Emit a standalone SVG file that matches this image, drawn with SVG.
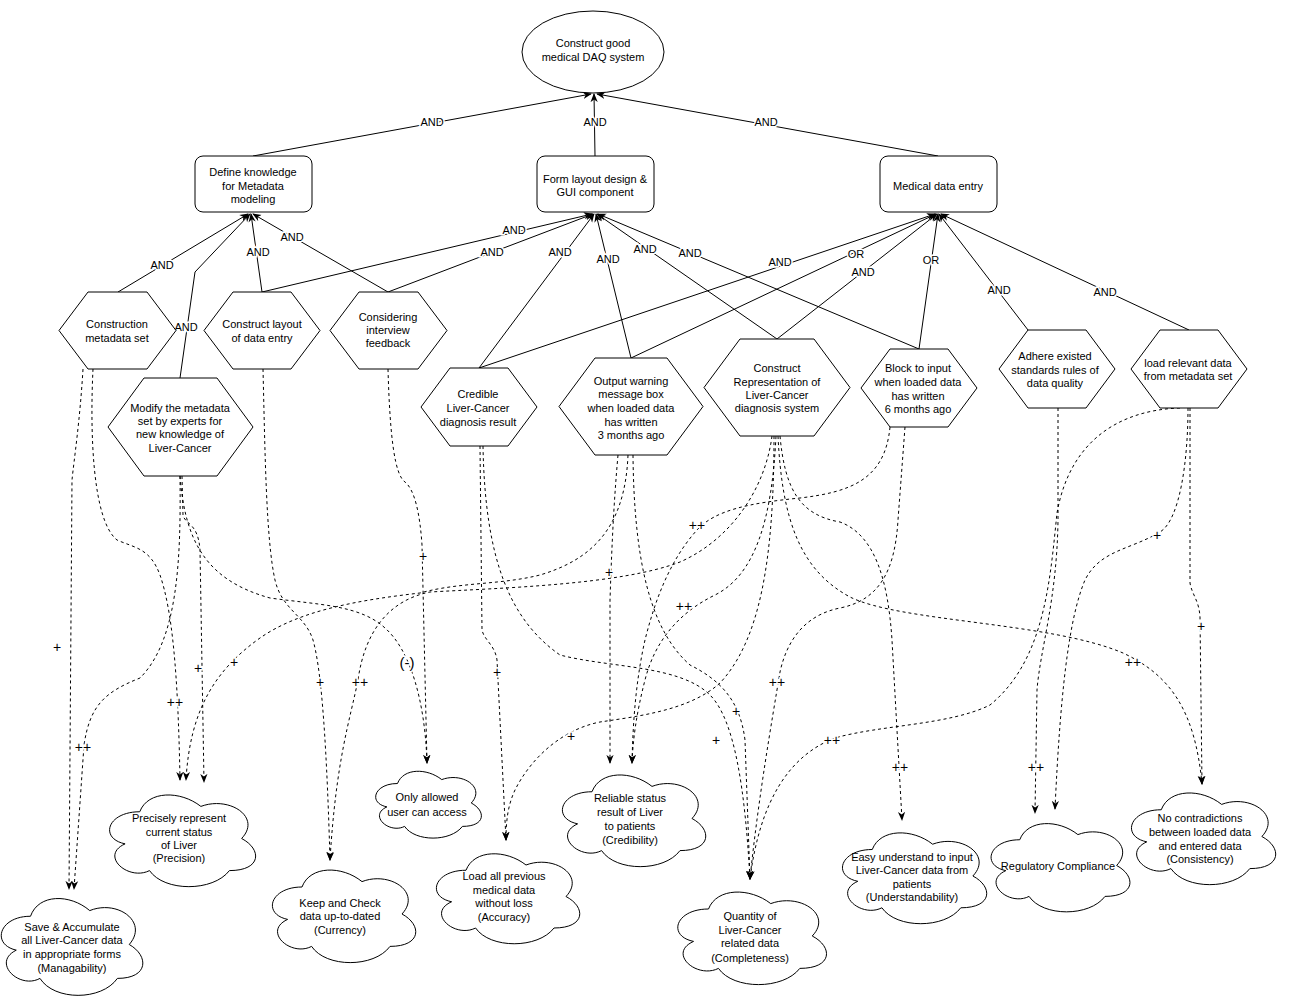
<svg xmlns="http://www.w3.org/2000/svg" xmlns:xlink="http://www.w3.org/1999/xlink" width="1295" height="997" viewBox="0 0 1295 997">
<style>
.t{font-family:"Liberation Sans",Arial,sans-serif;font-size:11px;fill:#000;text-anchor:middle}
.lb{font-family:"Liberation Sans",Arial,sans-serif;font-size:11px;fill:#000;text-anchor:middle;stroke:#fff;stroke-width:3px;paint-order:stroke}
.pl{font-family:"Liberation Sans",Arial,sans-serif;font-size:14px;fill:#000;text-anchor:middle;stroke:#fff;stroke-width:3px;paint-order:stroke}
.sh{fill:#fff;stroke:#000;stroke-width:1}
.and{fill:none;stroke:#000;stroke-width:1;marker-end:url(#arr)}
.cn{fill:none;stroke:#000;stroke-width:1;stroke-dasharray:3 3;marker-end:url(#arr)}
</style>
<defs>
<marker id="arr" viewBox="0 0 10 10" refX="9" refY="5" markerWidth="9" markerHeight="9" markerUnits="userSpaceOnUse" orient="auto">
<path d="M0,1 L10,5 L0,9 L3,5 z" fill="#000"/>
</marker>
<path id="cloud" d="M0.25,0.25 C0.05,0.25 0,0.5 0.16,0.55 C0,0.66 0.18,0.9 0.31,0.8 C0.4,1 0.7,1 0.8,0.8 C1,0.8 1,0.6 0.875,0.5 C1,0.3 0.8,0.1 0.625,0.2 C0.5,0.05 0.3,0.05 0.25,0.25 Z" fill="#fff" stroke="#000" stroke-width="1" vector-effect="non-scaling-stroke"/>
</defs>
<rect width="1295" height="997" fill="#fff"/>

<g id="connectors">
<!-- AND / OR links -->
<line class="and" x1="253" y1="156" x2="591" y2="94"/>
<line class="and" x1="595" y1="156" x2="594" y2="94"/>
<line class="and" x1="938" y1="156" x2="597" y2="94"/>
<line class="and" x1="118" y1="292" x2="248" y2="214"/>
<polyline class="and" points="180,378 195,272 250,214"/>
<line class="and" x1="262" y1="292" x2="251" y2="214"/>
<line class="and" x1="388" y1="292" x2="253" y2="214"/>
<line class="and" x1="262" y1="292" x2="592" y2="214"/>
<line class="and" x1="388" y1="292" x2="593" y2="214"/>
<line class="and" x1="479" y1="368" x2="594" y2="214"/>
<line class="and" x1="631" y1="358" x2="596" y2="214"/>
<line class="and" x1="777" y1="339" x2="597" y2="214"/>
<line class="and" x1="919" y1="349" x2="598" y2="214"/>
<line class="and" x1="479" y1="368" x2="935" y2="214"/>
<line class="and" x1="631" y1="358" x2="936" y2="214"/>
<line class="and" x1="777" y1="339" x2="937" y2="214"/>
<line class="and" x1="919" y1="349" x2="938" y2="214"/>
<line class="and" x1="1028" y1="330" x2="939" y2="214"/>
<line class="and" x1="1189" y1="330" x2="941" y2="214"/>

<!-- contribution links -->
<path class="cn" d="M83,369 C80,420 74,460 72,480 L69,889"/>
<path class="cn" d="M180,476 C181,560 178,640 140,678 C105,692 90,705 84,745 L74,889"/>
<path class="cn" d="M93,369 C90,430 92,520 117,540 C135,548 150,548 160,575 C172,610 178,670 180,780"/>
<path class="cn" d="M182,476 L183,515 C185,525 198,522 200,550 L204,782"/>
<path class="cn" d="M628,455 C625,530 590,560 540,575 C500,585 460,582 420,593 C360,600 300,610 260,638 C215,670 190,710 186,780"/>
<path class="cn" d="M263,369 C265,450 266,540 275,580 C282,610 305,615 313,640 C320,665 326,720 330,860"/>
<path class="cn" d="M772,436 C765,490 730,540 680,562 C620,585 500,588 430,592 C390,600 365,630 358,680 C350,720 336,760 330,860"/>
<path class="cn" d="M180,476 C185,540 205,580 270,598 C320,605 360,605 385,628 C410,650 425,700 427,763"/>
<path class="cn" d="M388,369 C390,440 395,475 405,482 C415,490 420,515 422,545 L427,763"/>
<path class="cn" d="M480,446 L482,630 C484,640 495,645 497,660 L506,840"/>
<path class="cn" d="M774,436 C774,560 760,640 720,683 C690,710 640,716 600,722 C560,730 530,760 515,790 C508,805 506,820 506,840"/>
<path class="cn" d="M483,446 C485,560 510,620 560,655 C610,668 680,665 710,695 C735,720 745,790 750,879"/>
<path class="cn" d="M633,455 C634,560 650,630 690,665 C720,680 740,700 745,740 L750,879"/>
<path class="cn" d="M618,455 C614,500 612,540 610,600 L610,763"/>
<path class="cn" d="M890,427 C885,480 850,492 800,498 C750,503 715,510 697,530 C670,560 655,600 645,640 C636,680 633,720 632,763"/>
<path class="cn" d="M776,436 C772,520 755,575 715,595 C680,612 655,640 645,680 C636,715 633,740 632,763"/>
<path class="cn" d="M905,427 L898,520 C895,570 880,600 840,608 C805,615 787,640 780,672 C772,720 758,800 750,879"/>
<path class="cn" d="M1180,408 C1120,410 1070,440 1057,513 C1050,580 1045,660 990,705 C950,725 880,725 835,738 C790,755 760,800 750,879"/>
<path class="cn" d="M780,436 C785,490 800,515 840,522 C875,535 888,580 892,640 L902,820"/>
<path class="cn" d="M1058,408 L1058,520 C1057,600 1040,650 1037,690 L1035,813"/>
<path class="cn" d="M1188,408 C1188,460 1180,520 1160,532 C1130,550 1100,550 1085,580 C1068,620 1060,700 1055,809"/>
<path class="cn" d="M1190,408 L1190,583 C1192,595 1199,600 1200,617 L1202,784"/>
<path class="cn" d="M778,436 C782,520 800,570 850,597 C900,622 1050,622 1123,653 C1170,675 1195,710 1202,784"/>

<!-- labels -->
<text class="lb" x="432" y="126">AND</text>
<text class="lb" x="595" y="126">AND</text>
<text class="lb" x="766" y="126">AND</text>
<text class="lb" x="162" y="269">AND</text>
<text class="lb" x="186" y="331">AND</text>
<text class="lb" x="258" y="256">AND</text>
<text class="lb" x="292" y="241">AND</text>
<text class="lb" x="514" y="234">AND</text>
<text class="lb" x="492" y="256">AND</text>
<text class="lb" x="560" y="256">AND</text>
<text class="lb" x="608" y="263">AND</text>
<text class="lb" x="645" y="253">AND</text>
<text class="lb" x="690" y="257">AND</text>
<text class="lb" x="780" y="266">AND</text>
<text class="lb" x="856" y="258">OR</text>
<text class="lb" x="863" y="276">AND</text>
<text class="lb" x="931" y="264">OR</text>
<text class="lb" x="999" y="294">AND</text>
<text class="lb" x="1105" y="296">AND</text>

<text class="pl" x="57" y="652">+</text>
<text class="pl" x="83" y="752">++</text>
<text class="pl" x="175" y="707">++</text>
<text class="pl" x="198" y="673">+</text>
<text class="pl" x="234" y="667">+</text>
<text class="pl" x="320" y="687">+</text>
<text class="pl" x="360" y="687">++</text>
<text class="pl" x="407" y="668" style="font-size:15px">(-)</text>
<text class="pl" x="423" y="561">+</text>
<text class="pl" x="497" y="677">+</text>
<text class="pl" x="571" y="741">+</text>
<text class="pl" x="609" y="577">+</text>
<text class="pl" x="697" y="530">++</text>
<text class="pl" x="684" y="611">++</text>
<text class="pl" x="736" y="716">+</text>
<text class="pl" x="716" y="745">+</text>
<text class="pl" x="777" y="687">++</text>
<text class="pl" x="832" y="745">++</text>
<text class="pl" x="900" y="772">++</text>
<text class="pl" x="1036" y="772">++</text>
<text class="pl" x="1157" y="540">+</text>
<text class="pl" x="1201" y="631">+</text>
<text class="pl" x="1133" y="667">++</text>
</g>

<g id="n-goal">
<ellipse class="sh" cx="593" cy="52" rx="71" ry="41"/>
<text class="t" x="593" y="47">Construct good</text>
<text class="t" x="593" y="61">medical DAQ system</text>
</g>
<g id="n-define">
<rect class="sh" x="195" y="156" width="117" height="56" rx="8"/>
<text class="t" x="253" y="176">Define knowledge</text>
<text class="t" x="253" y="190">for Metadata</text>
<text class="t" x="253" y="203">modeling</text>
</g>
<g id="n-form">
<rect class="sh" x="537" y="156" width="117" height="56" rx="8"/>
<text class="t" x="595" y="183">Form layout design &amp;</text>
<text class="t" x="595" y="196">GUI component</text>
</g>
<g id="n-entry">
<rect class="sh" x="880" y="156" width="117" height="56" rx="8"/>
<text class="t" x="938" y="190">Medical data entry</text>
</g>

<g id="h1">
<polygon class="sh" points="59,330.5 88,292 147,292 176,330.5 147,369 88,369"/>
<text class="t" x="117" y="328">Construction</text>
<text class="t" x="117" y="342">metadata set</text>
</g>
<g id="h2">
<polygon class="sh" points="204,330.5 233,292 291,292 320,330.5 291,369 233,369"/>
<text class="t" x="262" y="328">Construct layout</text>
<text class="t" x="262" y="342">of data entry</text>
</g>
<g id="h3">
<polygon class="sh" points="330,330.5 359,292 418,292 447,330.5 418,369 359,369"/>
<text class="t" x="388" y="321">Considering</text>
<text class="t" x="388" y="334">interview</text>
<text class="t" x="388" y="347">feedback</text>
</g>
<g id="h4">
<polygon class="sh" points="108,427 144,378 217,378 253,427 217,476 144,476"/>
<text class="t" x="180" y="412">Modify the metadata</text>
<text class="t" x="180" y="425">set by experts for</text>
<text class="t" x="180" y="438">new knowledge of</text>
<text class="t" x="180" y="452">Liver-Cancer</text>
</g>
<g id="h5">
<polygon class="sh" points="421,407 450,368 508,368 537,407 508,446 450,446"/>
<text class="t" x="478" y="398">Credible</text>
<text class="t" x="478" y="412">Liver-Cancer</text>
<text class="t" x="478" y="426">diagnosis result</text>
</g>
<g id="h6">
<polygon class="sh" points="559,406.5 595,358 667,358 703,406.5 667,455 595,455"/>
<text class="t" x="631" y="385">Output warning</text>
<text class="t" x="631" y="398">message box</text>
<text class="t" x="631" y="412">when loaded data</text>
<text class="t" x="631" y="426">has written</text>
<text class="t" x="631" y="439">3 months ago</text>
</g>
<g id="h7">
<polygon class="sh" points="704,387.5 740,339 814,339 850,387.5 814,436 740,436"/>
<text class="t" x="777" y="372">Construct</text>
<text class="t" x="777" y="386">Representation of</text>
<text class="t" x="777" y="399">Liver-Cancer</text>
<text class="t" x="777" y="412">diagnosis system</text>
</g>
<g id="h8">
<polygon class="sh" points="861,388 890,349 948,349 977,388 948,427 890,427"/>
<text class="t" x="918" y="372">Block to input</text>
<text class="t" x="918" y="386">when loaded data</text>
<text class="t" x="918" y="400">has written</text>
<text class="t" x="918" y="413">6 months ago</text>
</g>
<g id="h9">
<polygon class="sh" points="999,369 1028,330 1086,330 1115,369 1086,408 1028,408"/>
<text class="t" x="1055" y="360">Adhere existed</text>
<text class="t" x="1055" y="374">standards rules of</text>
<text class="t" x="1055" y="387">data quality</text>
</g>
<g id="h10">
<polygon class="sh" points="1131,369 1160,330 1218,330 1247,369 1218,408 1160,408"/>
<text class="t" x="1188" y="367">load relevant data</text>
<text class="t" x="1188" y="380">from metadata set</text>
</g>

<g id="c1">
<use xlink:href="#cloud" transform="translate(-9,888) scale(158,113)"/>
<text class="t" x="72" y="931">Save &amp; Accumulate</text>
<text class="t" x="72" y="944">all Liver-Cancer data</text>
<text class="t" x="72" y="958">in appropriate forms</text>
<text class="t" x="72" y="972">(Managability)</text>
</g>
<g id="c2">
<use xlink:href="#cloud" transform="translate(99,785) scale(163,107)"/>
<text class="t" x="179" y="822">Precisely represent</text>
<text class="t" x="179" y="836">current status</text>
<text class="t" x="179" y="849">of Liver</text>
<text class="t" x="179" y="862">(Precision)</text>
</g>
<g id="c3">
<use xlink:href="#cloud" transform="translate(262,860) scale(160,108)"/>
<text class="t" x="340" y="907">Keep and Check</text>
<text class="t" x="340" y="920">data up-to-dated</text>
<text class="t" x="340" y="934">(Currency)</text>
</g>
<g id="c4">
<use xlink:href="#cloud" transform="translate(368,764) scale(118,78)"/>
<text class="t" x="427" y="801">Only allowed</text>
<text class="t" x="427" y="816">user can access</text>
</g>
<g id="c5">
<use xlink:href="#cloud" transform="translate(426,844) scale(160,105)"/>
<text class="t" x="504" y="880">Load all previous</text>
<text class="t" x="504" y="894">medical data</text>
<text class="t" x="504" y="907">without loss</text>
<text class="t" x="504" y="921">(Accuracy)</text>
</g>
<g id="c6">
<use xlink:href="#cloud" transform="translate(552,765) scale(160,107)"/>
<text class="t" x="630" y="802">Reliable status</text>
<text class="t" x="630" y="816">result of Liver</text>
<text class="t" x="630" y="830">to patients</text>
<text class="t" x="630" y="844">(Credibility)</text>
</g>
<g id="c7">
<use xlink:href="#cloud" transform="translate(667,882) scale(166,108)"/>
<text class="t" x="750" y="920">Quantity of</text>
<text class="t" x="750" y="934">Liver-Cancer</text>
<text class="t" x="750" y="947">related data</text>
<text class="t" x="750" y="962">(Completeness)</text>
</g>
<g id="c8">
<use xlink:href="#cloud" transform="translate(832,823) scale(161,106)"/>
<text class="t" x="912" y="861">Easy understand to input</text>
<text class="t" x="912" y="874">Liver-Cancer data from</text>
<text class="t" x="912" y="888">patients</text>
<text class="t" x="912" y="901">(Understandability)</text>
</g>
<g id="c9">
<use xlink:href="#cloud" transform="translate(981,814) scale(155,103)"/>
<text class="t" x="1058" y="870">Regulatory Compliance</text>
</g>
<g id="c10">
<use xlink:href="#cloud" transform="translate(1121,783) scale(161,107)"/>
<text class="t" x="1200" y="822">No contradictions</text>
<text class="t" x="1200" y="836">between loaded data</text>
<text class="t" x="1200" y="850">and entered data</text>
<text class="t" x="1200" y="863">(Consistency)</text>
</g>
</svg>
